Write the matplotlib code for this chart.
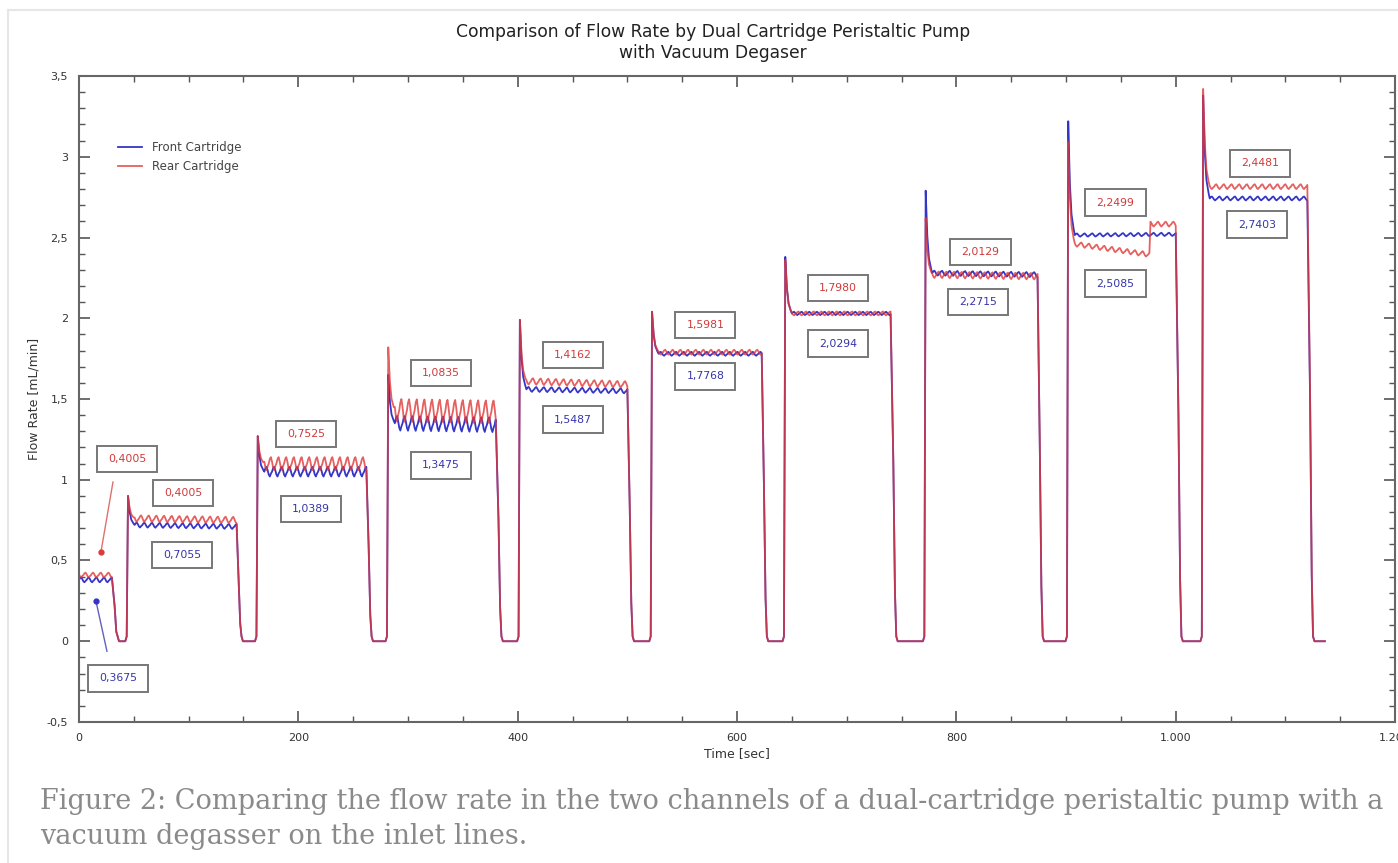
import numpy as np
import matplotlib
matplotlib.use("Agg")
import matplotlib.pyplot as plt
from matplotlib.patches import Rectangle
from matplotlib.ticker import MultipleLocator, FuncFormatter

# pump run segments (sec)
seg_rise = [0, 44.7, 163, 282, 402, 522.5, 644, 772, 902, 1025]
seg_fall = [31, 144, 262.6, 381, 500.6, 623, 741, 874.5, 1001, 1121]
end_time = 1136

front_spike = [0.38, 0.90, 1.27, 1.65, 1.99, 2.04, 2.38, 2.79, 3.22, 3.38]
rear_spike = [0.41, 0.90, 1.27, 1.82, 1.99, 2.04, 2.36, 2.62, 3.09, 3.42]
front_level = [0.38, 0.72, 1.05, 1.35, 1.56, 1.78, 2.03, 2.28, 2.515, 2.742]
front_level_end = [0.38, 0.71, 1.05, 1.34, 1.55, 1.78, 2.03, 2.27, 2.52, 2.742]
rear_level = [0.41, 0.76, 1.10, 1.43, 1.61, 1.79, 2.03, 2.27, 2.46, 2.815]
rear_level_end = [0.41, 0.75, 1.10, 1.42, 1.59, 1.79, 2.03, 2.26, 2.37, 2.815]
front_ripple = [0.015, 0.015, 0.03, 0.045, 0.015, 0.012, 0.01, 0.015, 0.01, 0.012]
rear_ripple = [0.015, 0.02, 0.04, 0.07, 0.02, 0.015, 0.012, 0.02, 0.015, 0.015]
rear_step_time = 976.7
rear_step_level = 2.583
ripple_shape = [0, 0.7, 1, 0.3, -0.6, -1, -0.4]  # one pump stroke, ~7 s

rear_labels = ["0,4005", "0,4005", "0,7525", "1,0835", "1,4162",
               "1,5981", "1,7980", "2,0129", "2,2499", "2,4481"]
rear_label_x = [43.8, 94.8, 207, 330, 450.5, 571, 692, 822, 945, 1077]
rear_label_y = [1.128, 0.918, 1.283, 1.662, 1.773, 1.959, 2.188, 2.41, 2.716, 2.959]
front_labels = ["0,3675", "0,7055", "1,0389", "1,3475", "1,5487",
                "1,7768", "2,0294", "2,2715", "2,5085", "2,7403"]
front_label_x = [35.6, 94, 211.6, 330, 450.5, 571, 692, 820, 945, 1074]
front_label_y = [-0.229, 0.533, 0.818, 1.09, 1.373, 1.64, 1.843, 2.10, 2.215, 2.579]


def build(spike, level, level_end, ripple, phase, step=None):
    t, y = [], []
    for i in range(len(seg_rise)):
        r, f = seg_rise[i], seg_fall[i]
        if i == 0:
            t0 = r
        else:
            t += [r - 2.5, r - 1.2, r]
            y += [0.0, 0.03, spike[i]]
            d = spike[i] - level[i]
            t += [r + 1.5, r + 3, r + 5]
            y += [level[i] + 0.45 * d, level[i] + 0.18 * d, level[i] + 0.05 * d]
            t0 = r + 6
        ts = np.arange(t0, f, 1.0)
        for k, tt in enumerate(ts):
            lv = level[i] + (level_end[i] - level[i]) * (tt - t0) / (f - t0)
            if step is not None and i == 8 and tt >= step[0]:
                lv = step[1]
            t.append(tt)
            y.append(lv + ripple[i] * ripple_shape[(k + phase) % len(ripple_shape)])
        lv = y[-1]
        t += [f + 1.5, f + 3, f + 4.2, f + 5.5]
        y += [lv * 0.55, lv * 0.15, 0.03, 0.0]
        nxt = seg_rise[i + 1] - 2.5 if i + 1 < len(seg_rise) else end_time
        t.append(nxt)
        y.append(0.0)
    return np.array(t), np.array(y)


tf, yf = build(front_spike, front_level, front_level_end, front_ripple, 0)
tr, yr = build(rear_spike, rear_level, rear_level_end, rear_ripple, 3,
               step=(rear_step_time, rear_step_level))

fig = plt.figure(figsize=(13.98, 8.63), dpi=100)
ax = fig.add_axes([0.0565, 0.1634, 0.9414, 0.7485])

blue = "#3535c8"
red = "#e03838"
ax.plot(tf, yf, color=blue, lw=1.3, label="Front Cartridge")
ax.plot(tr, yr, color=red, lw=1.3, alpha=0.8, label="Rear Cartridge")

ax.set_xlim(0, 1200)
ax.set_ylim(-0.5, 3.5)
ax.xaxis.set_major_locator(MultipleLocator(200))
ax.xaxis.set_minor_locator(MultipleLocator(50))
ax.yaxis.set_major_locator(MultipleLocator(0.5))
ax.yaxis.set_minor_locator(MultipleLocator(0.1))
ax.xaxis.set_major_formatter(FuncFormatter(lambda v, p: f"{v:,.0f}".replace(",", ".")))
ax.yaxis.set_major_formatter(FuncFormatter(lambda v, p: f"{v:g}".replace(".", ",")))
ax.tick_params(which="both", direction="in", top=True, right=True,
               colors="#555555", labelcolor="#333333", labelsize=8)
ax.tick_params(which="major", length=8, width=1.2, pad=8)
ax.tick_params(which="minor", length=4, width=1.0)
for s in ax.spines.values():
    s.set_color("#666666")
    s.set_linewidth(1.5)

ax.set_xlabel("Time [sec]", fontsize=9, color="#333333", labelpad=3)
ax.set_ylabel("Flow Rate [mL/min]", fontsize=9, color="#333333")
ax.yaxis.set_label_coords(-0.0296, 0.5)

fig.text(0.51, 1 - 42.5 / 863,
         "Comparison of Flow Rate by Dual Cartridge Peristaltic Pump\nwith Vacuum Degaser",
         fontsize=12.3, color="#222222", ha="center", va="center", linespacing=1.15)

ax.legend(loc="upper left", bbox_to_anchor=(0.0296, 0.899), frameon=False,
          borderpad=0, borderaxespad=0, fontsize=8.5, handlelength=2.0,
          handletextpad=0.9, labelspacing=0.5, labelcolor="#444444")

box_w, box_h = 55, 0.165
for txt, x, y in zip(rear_labels, rear_label_x, rear_label_y):
    ax.add_patch(Rectangle((x - box_w / 2, y - box_h / 2), box_w, box_h, fill=False,
                           edgecolor="#777777", lw=1.4, zorder=4))
    ax.text(x, y, txt, color="#d03a3a", fontsize=7.8, ha="center", va="center", zorder=5)
for txt, x, y in zip(front_labels, front_label_x, front_label_y):
    ax.add_patch(Rectangle((x - box_w / 2, y - box_h / 2), box_w, box_h, fill=False,
                           edgecolor="#777777", lw=1.4, zorder=4))
    ax.text(x, y, txt, color="#3535a8", fontsize=7.8, ha="center", va="center", zorder=5)

# pointer lines to first segment
ax.plot([31, 20], [0.986, 0.552], color="#e07070", lw=1.0)
ax.plot([20], [0.552], "o", color=red, ms=3.5)
ax.plot([25.5, 15.5], [-0.062, 0.248], color="#6060c0", lw=1.0)
ax.plot([15.5], [0.248], "o", color=blue, ms=3.5)

# page frame and caption
fig.add_artist(plt.Line2D([8 / 1398, 1], [1 - 10 / 863] * 2, color="#e6e6e6", lw=1.5))
fig.add_artist(plt.Line2D([8 / 1398] * 2, [0, 1 - 10 / 863], color="#e6e6e6", lw=1.5))
fig.text(40 / 1398, 1 - 819 / 863,
         "Figure 2: Comparing the flow rate in the two channels of a dual-cartridge peristaltic pump with a\n"
         "vacuum degasser on the inlet lines.",
         fontsize=19.5, family="DejaVu Serif", color="#8a8a8a", va="center",
         linespacing=1.4)

fig.savefig("out.png", dpi=100)
